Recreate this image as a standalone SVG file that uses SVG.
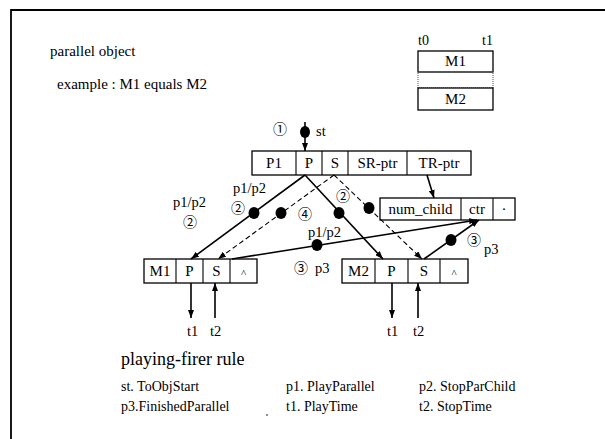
<svg xmlns="http://www.w3.org/2000/svg" width="605" height="439" viewBox="0 0 605 439">
<style>
text{font-family:"Liberation Serif","Times New Roman",serif;fill:#000}
.c{text-anchor:middle}
.box{fill:#fff;stroke:#000;stroke-width:1.3}
.div{stroke:#000;stroke-width:1.1}
.ln{stroke:#000;stroke-width:1.6;fill:none}
.dl{stroke:#000;stroke-width:1.1;fill:none;stroke-dasharray:5 3}
.dot{fill:#000}
.num{font-family:"Noto Sans CJK JP","DejaVu Sans",sans-serif;font-size:14px;text-anchor:middle;fill:#000}
.lab{font-size:14.5px}
</style>
<defs>
<marker id="ah" viewBox="0 0 8 6" refX="8" refY="3" markerWidth="8" markerHeight="6" markerUnits="userSpaceOnUse" orient="auto"><path d="M0,0 L8,3 L0,6 z" fill="#000"/></marker>
</defs>
<rect x="0" y="0" width="605" height="439" fill="#fff"/>
<path d="M11,439 V10 H605" fill="none" stroke="#000" stroke-width="1.8"/>

<g id="title">
<text x="50" y="56" font-size="15">parallel  object</text>
<text x="57" y="89" font-size="15">example : M1  equals  M2</text>
</g>

<g id="legend">
<text x="418" y="45" font-size="14">t0</text>
<text x="482" y="45" font-size="14">t1</text>
<rect class="box" x="418" y="51" width="75" height="21"/>
<rect x="418" y="72" width="75" height="16" fill="none" stroke="#555" stroke-width="1" stroke-dasharray="1 1"/>
<rect class="box" x="418" y="88" width="75" height="22"/>
<text class="c" x="455.5" y="66" font-size="15">M1</text>
<text class="c" x="455.5" y="104" font-size="15">M2</text>
</g>

<g id="parent">
<rect class="box" x="252" y="151" width="219" height="24"/>
<line class="div" x1="296" y1="151" x2="296" y2="175"/>
<line class="div" x1="322" y1="151" x2="322" y2="175"/>
<line class="div" x1="348" y1="151" x2="348" y2="175"/>
<line class="div" x1="407" y1="151" x2="407" y2="175"/>
<text class="c" x="274" y="168" font-size="15">P1</text>
<text class="c" x="309" y="168" font-size="15">P</text>
<text class="c" x="335" y="168" font-size="15">S</text>
<text class="c" x="377.5" y="168" font-size="15">SR-ptr</text>
<text class="c" x="439" y="168" font-size="15">TR-ptr</text>
</g>

<g id="counter">
<rect class="box" x="380" y="198" width="135" height="22"/>
<line class="div" x1="461" y1="198" x2="461" y2="220"/>
<line class="div" x1="493" y1="198" x2="493" y2="220"/>
<text class="c" x="420.5" y="214" font-size="15">num_child</text>
<text class="c" x="477" y="214" font-size="15">ctr</text>
<text class="c" x="504" y="214" font-size="15">·</text>
</g>

<g id="m1">
<rect class="box" x="144" y="259" width="113" height="24"/>
<line class="div" x1="176" y1="259" x2="176" y2="283"/>
<line class="div" x1="203" y1="259" x2="203" y2="283"/>
<line class="div" x1="230" y1="259" x2="230" y2="283"/>
<text class="c" x="160" y="276" font-size="15">M1</text>
<text class="c" x="189.5" y="276" font-size="15">P</text>
<text class="c" x="216.5" y="276" font-size="15">S</text>
<text class="c" x="243.5" y="277" font-size="11">^</text>
</g>

<g id="m2">
<rect class="box" x="342" y="259" width="126" height="24"/>
<line class="div" x1="375" y1="259" x2="375" y2="283"/>
<line class="div" x1="408" y1="259" x2="408" y2="283"/>
<line class="div" x1="440" y1="259" x2="440" y2="283"/>
<text class="c" x="358.5" y="276" font-size="15">M2</text>
<text class="c" x="391.5" y="276" font-size="15">P</text>
<text class="c" x="424" y="276" font-size="15">S</text>
<text class="c" x="454" y="277" font-size="11">^</text>
</g>

<g id="connectors">
<line class="ln" x1="305" y1="122" x2="305" y2="151" marker-end="url(#ah)"/>
<line class="ln" x1="305" y1="175" x2="191" y2="259" marker-end="url(#ah)"/>
<line class="ln" x1="305" y1="175" x2="383" y2="259" marker-end="url(#ah)"/>
<line class="dl" x1="334" y1="175" x2="218" y2="259" marker-end="url(#ah)"/>
<line class="dl" x1="334" y1="175" x2="422" y2="259" marker-end="url(#ah)"/>
<line class="ln" x1="232" y1="259" x2="477" y2="220" marker-end="url(#ah)"/>
<line class="ln" x1="424" y1="259" x2="479" y2="220" marker-end="url(#ah)"/>
<line class="ln" x1="427" y1="175" x2="434" y2="198" marker-end="url(#ah)"/>
<line class="ln" x1="191" y1="283" x2="191" y2="318" marker-end="url(#ah)"/>
<line class="ln" x1="215" y1="318" x2="215" y2="283" marker-end="url(#ah)"/>
<line class="ln" x1="392" y1="283" x2="392" y2="318" marker-end="url(#ah)"/>
<line class="ln" x1="418" y1="318" x2="418" y2="283" marker-end="url(#ah)"/>
<ellipse class="dot" cx="305" cy="132" rx="5" ry="6"/>
<ellipse class="dot" cx="254" cy="213" rx="5.5" ry="6"/>
<ellipse class="dot" cx="281" cy="213" rx="5.5" ry="6"/>
<ellipse class="dot" cx="339" cy="213" rx="5.5" ry="6"/>
<ellipse class="dot" cx="369" cy="208" rx="5.5" ry="6"/>
<ellipse class="dot" cx="317" cy="245" rx="5.5" ry="6"/>
<ellipse class="dot" cx="451" cy="240" rx="5.5" ry="6"/>
</g>

<g id="labels">
<text class="num" x="280" y="134">①</text>
<text x="316" y="136" class="lab">st</text>
<text x="173" y="207" class="lab">p1/p2</text>
<text class="num" x="190" y="227">②</text>
<text x="233" y="193" class="lab">p1/p2</text>
<text class="num" x="238" y="213">②</text>
<text class="num" x="305" y="219">④</text>
<text class="num" x="343" y="201">②</text>
<text x="308" y="237" class="lab">p1/p2</text>
<text class="num" x="301" y="273">③</text>
<text x="315" y="273" class="lab">p3</text>
<text class="num" x="474" y="245">③</text>
<text x="484" y="254" class="lab">p3</text>
<text x="187" y="336" class="lab">t1</text>
<text x="210" y="336" class="lab">t2</text>
<text x="387" y="336" class="lab">t1</text>
<text x="413" y="336" class="lab">t2</text>
</g>

<g id="rules">
<text x="121" y="365" font-size="18">playing-firer  rule</text>
<text x="121" y="391" font-size="14">st.  ToObjStart</text>
<text x="286" y="391" font-size="14">p1. PlayParallel</text>
<text x="419" y="391" font-size="14">p2. StopParChild</text>
<text x="121" y="411" font-size="14">p3.FinishedParallel</text>
<text x="286" y="411" font-size="14">t1.  PlayTime</text>
<text x="419" y="411" font-size="14">t2.  StopTime</text>
<circle cx="267" cy="415" r="0.8" fill="#000"/>
</g>
</svg>
